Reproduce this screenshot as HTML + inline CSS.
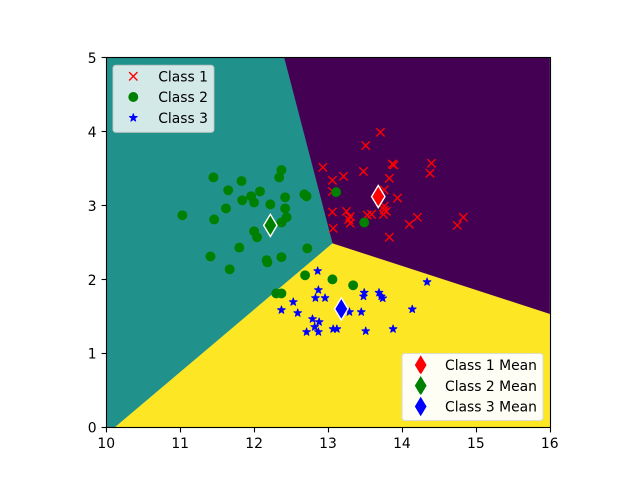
<!DOCTYPE html>
<html>
<head>
<meta charset="utf-8">
<title>Class decision regions</title>
<style>
html,body{margin:0;padding:0;background:#fff;width:640px;height:480px;overflow:hidden}
svg{display:block}
text{font-family:"DejaVu Sans","Liberation Sans",sans-serif;font-size:13.89px;fill:#000}
</style>
</head>
<body>
<svg id="chart" width="640" height="480" viewBox="0 0 640 480" xmlns="http://www.w3.org/2000/svg"></svg>
<script>
// Chart data (data coordinates)
const xTicks = [10, 11, 12, 13, 14, 15, 16];
const yTicks = [0, 1, 2, 3, 4, 5];
const xDomain = [10, 16];
const yDomain = [0, 5];

const regionClass1 = [[12.405, 5], [16, 5], [16, 1.53], [13.06, 2.485]];
const regionClass2 = [[10, 0], [10.12, 0], [13.06, 2.485], [12.405, 5], [10, 5]];
const regionClass3 = [[10.12, 0], [16, 0], [16, 1.53], [13.06, 2.485]];

const class1X = [13.71,13.51,12.93,13.06,13.21,13.48,13.83,13.87,13.89,14.40,14.38,13.94,13.06,13.76,13.06,13.25,13.30,13.28,13.30,13.07,13.53,13.59,13.76,13.76,13.79,13.75,14.21,14.10,14.83,14.75,13.83];
const class1Y = [3.99,3.81,3.516,3.34,3.394,3.46,3.367,3.56,3.547,3.57,3.435,3.10,3.19,3.21,2.91,2.92,2.85,2.81,2.76,2.69,2.87,2.88,2.99,2.94,2.92,2.88,2.84,2.745,2.84,2.73,2.57];

const class2X = [11.45,11.83,12.37,12.34,11.65,11.96,12.08,11.84,12.00,12.22,12.42,12.68,12.71,12.42,11.62,11.03,11.46,12.44,12.37,12.00,12.04,11.80,12.72,11.41,12.37,12.17,12.18,11.67,12.69,13.06,13.34,12.30,12.37,13.11,13.49];
const class2Y = [3.38,3.33,3.48,3.38,3.205,3.124,3.19,3.07,3.04,3.015,3.11,3.15,3.124,2.96,2.96,2.867,2.81,2.84,2.77,2.65,2.57,2.43,2.42,2.31,2.30,2.26,2.23,2.136,2.055,2.00,1.92,1.81,1.81,3.18,2.77];

const class3X = [12.86,14.34,12.87,13.49,13.48,13.69,13.74,13.72,12.83,12.96,12.53,14.14,12.37,12.59,13.29,13.45,12.79,12.88,12.82,12.71,12.87,13.07,13.12,13.51,13.88];
const class3Y = [2.113,1.964,1.856,1.82,1.77,1.82,1.744,1.77,1.748,1.748,1.694,1.595,1.585,1.545,1.558,1.558,1.464,1.423,1.356,1.288,1.288,1.328,1.328,1.30,1.328];

const meanX = [13.68, 12.22, 13.18];
const meanY = [3.12, 2.73, 1.60];
const meanColors = ['#ff0000', '#008000', '#0000ff'];

const pointLegendLabels = ['Class 1', 'Class 2', 'Class 3'];
const meanLegendLabels = ['Class 1 Mean', 'Class 2 Mean', 'Class 3 Mean'];

// Layout
const axLeft = 106.24, axRight = 549.76, axTop = 57.6, axBottom = 427.2;
const sx = v => axLeft + (v - xDomain[0]) / (xDomain[1] - xDomain[0]) * (axRight - axLeft);
const sy = v => axBottom - (v - yDomain[0]) / (yDomain[1] - yDomain[0]) * (axBottom - axTop);
const snap = v => Math.floor(v + 0.5) + 0.5;
const svg = document.getElementById('chart');
const NS = 'http://www.w3.org/2000/svg';

function make(tag, attrs, parent) {
  const el = document.createElementNS(NS, tag);
  for (const k in attrs) el.setAttribute(k, attrs[k]);
  (parent || svg).appendChild(el);
  return el;
}

function region(points, color, name) {
  const pts = points.map(p => sx(p[0]).toFixed(2) + ',' + sy(p[1]).toFixed(2)).join(' ');
  const el = make('polygon', {points: pts, fill: color, stroke: color, 'stroke-width': 0.3});
  
  
}

function crossAt(cx, cy, name) {
  const r = 4.17;
  const d = `M${cx - r} ${cy - r}L${cx + r} ${cy + r}M${cx - r} ${cy + r}L${cx + r} ${cy - r}`;
  const el = make('path', {d: d, stroke: '#ff0000', 'stroke-width': 1.39, fill: 'none'});
  
  
}

function dotAt(cx, cy, name) {
  const el = make('circle', {cx: cx, cy: cy, r: 4.95, fill: '#008000'});
  
  
}

function starAt(cx, cy, name) {
  const outer = 4.0, inner = outer * 0.381966;
  const pts = [];
  for (let i = 0; i < 10; i++) {
    const a = -Math.PI / 2 + i * Math.PI / 5;
    const r = i % 2 ? inner : outer;
    pts.push((cx + r * Math.cos(a)).toFixed(2) + ',' + (cy + r * Math.sin(a)).toFixed(2));
  }
  const el = make('polygon', {points: pts.join(' '), fill: '#0000ff', stroke: '#0000ff', 'stroke-width': 1, 'stroke-linejoin': 'round'});
  
  
}

function diamondAt(cx, cy, color, name) {
  const hw = 6.7, hh = 11.1;
  const pts = `${cx},${cy - hh} ${cx + hw},${cy} ${cx},${cy + hh} ${cx - hw},${cy}`;
  const el = make('polygon', {points: pts, fill: color, stroke: '#ffffff', 'stroke-width': 1.39});
  
  
}

// Decision regions
region(regionClass1, '#440154', 'class-1-region');
region(regionClass2, '#21918c', 'class-2-region');
region(regionClass3, '#fde725', 'class-3-region');

// Scatter series
class1X.forEach((v, i) => crossAt(sx(v), sy(class1Y[i]), 'class-1-point'));
class2X.forEach((v, i) => dotAt(sx(v), sy(class2Y[i]), 'class-2-point'));
class3X.forEach((v, i) => starAt(sx(v), sy(class3Y[i]), 'class-3-point'));

// Class means
meanX.forEach((v, i) => diamondAt(sx(v), sy(meanY[i]), meanColors[i], 'class-' + (i + 1) + '-mean-marker'));

// Spines (snapped to the pixel grid)
const frame = make('rect', {x: 106.5, y: 57.5, width: 444, height: 370, fill: 'none', stroke: '#000', 'stroke-width': 1.11});



// Ticks
xTicks.forEach(t => {
  const x = snap(sx(t));
  const tick = make('line', {x1: x, x2: x, y1: 427.5, y2: 432.4, stroke: '#000', 'stroke-width': 1.11});
  
  
  const label = make('text', {x: sx(t), y: 448, 'text-anchor': 'middle'});
  label.textContent = t;
  
  
});
yTicks.forEach(t => {
  const y = snap(sy(t) - 0.5);
  const tick = make('line', {x1: 101.6, x2: 106.5, y1: y, y2: y, stroke: '#000', 'stroke-width': 1.11});
  
  
  const label = make('text', {x: 96.6, y: sy(t) + 5.4, 'text-anchor': 'end'});
  label.textContent = t;
  
  
});

// Upper-left legend
const legend1 = make('g', {});


const legend1Box = make('rect', {x: 113, y: 65.3, width: 100.9, height: 67, rx: 2.8, fill: '#ffffff', 'fill-opacity': 0.8, stroke: '#cccccc', 'stroke-opacity': 0.8, 'stroke-width': 1.11}, legend1);


const legend1Rows = [76.3, 97, 117.8];
crossAt(133.3, legend1Rows[0], 'legend-marker-class-1');
dotAt(133.3, legend1Rows[1], 'legend-marker-class-2');
starAt(133.3, legend1Rows[2], 'legend-marker-class-3');
pointLegendLabels.forEach((s, i) => {
  const label = make('text', {x: 158.2, y: legend1Rows[i] + 5.1}, legend1);
  label.textContent = s;
  
  
});

// Lower-right legend
const legend2 = make('g', {});


const legend2Box = make('rect', {x: 402, y: 353.5, width: 141, height: 67, rx: 2.8, fill: '#fffef5', stroke: '#dcdcd0', 'stroke-width': 1.11}, legend2);


const legend2Rows = [365, 385.7, 406.5];
meanColors.forEach((c, i) => diamondAt(420.7, legend2Rows[i], c, 'legend-marker-mean'));
meanLegendLabels.forEach((s, i) => {
  const label = make('text', {x: 445, y: legend2Rows[i] + 5.1}, legend2);
  label.textContent = s;
  
  
});
</script>
</body>
</html>
